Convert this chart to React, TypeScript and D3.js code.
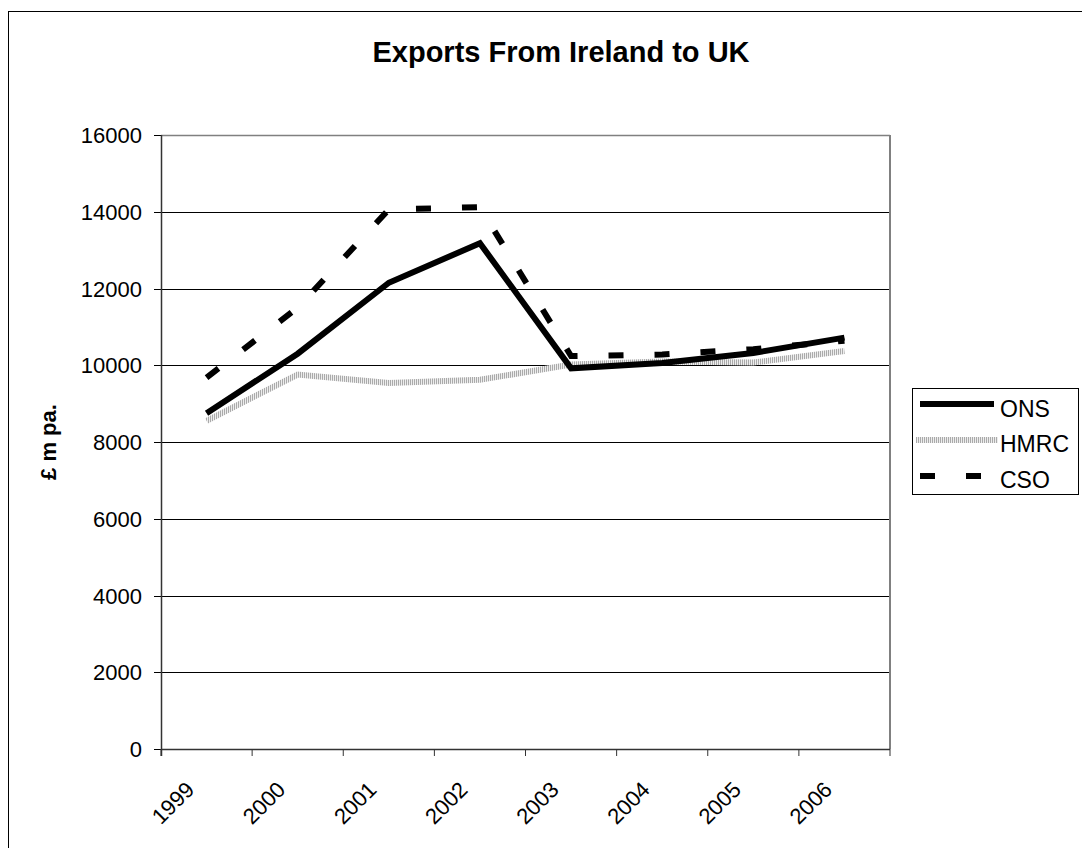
import React from "react";
import * as d3 from "d3";

const years = ["1999", "2000", "2001", "2002", "2003", "2004", "2005", "2006"];
const onsValues = [8750, 10300, 12150, 13180, 9920, 10060, 10320, 10720];
const hmrcValues = [8550, 9760, 9540, 9620, 10020, 10100, 10070, 10370];
const csoValues = [9680, 11500, 14060, 14120, 10240, 10280, 10420, 10640];
const yTicks = [0, 2000, 4000, 6000, 8000, 10000, 12000, 14000, 16000];
const seriesNames = ["ONS", "HMRC", "CSO"];

const FONT = "'Liberation Sans', Arial, sans-serif";

export default function App() {
  const W = 1082, H = 848;
  const left = 161, right = 890, top = 135, bottom = 749;
  const x = d3.scaleBand<string>().domain(years).range([left, right]);
  const y = d3.scaleLinear().domain([0, 16000]).range([bottom, top]);
  const cx = (yr: string) => (x(yr) as number) + x.bandwidth() / 2;
  const line = d3
    .line<number>()
    .x((_, i) => cx(years[i]))
    .y((v) => y(v));

  const legendX = 912, legendY = 388;
  const legendRows = [404, 440, 476];
  const legendBase = [417, 452, 488];

  return (
    <svg width={W} height={H} style={{ position: "absolute", left: 0, top: 0 }}>
      <defs>
        <pattern id="hatch" width="2" height="2" patternUnits="userSpaceOnUse">
          <rect width="2" height="2" fill="#ededed" />
          <rect width="1" height="2" fill="#aaaaaa" />
        </pattern>
      </defs>
      <rect x={0} y={0} width={W} height={H} fill="#fff" />
      <rect x={8.5} y={11.5} width={1090} height={850} fill="none" stroke="#000" strokeWidth={1} />
      <text x={561} y={62} textAnchor="middle" fontFamily={FONT} fontWeight="bold" fontSize={29}>
        Exports From Ireland to UK
      </text>
      {/* gridlines */}
      {yTicks.map((t) => (
        <g key={t}>
          {t > 0 && t < 16000 && (
            <line x1={left} x2={right} y1={Math.round(y(t)) + 0.5} y2={Math.round(y(t)) + 0.5} stroke="#000" strokeWidth={1} />
          )}
          <line x1={left - 7} x2={left} y1={Math.round(y(t)) + 0.5} y2={Math.round(y(t)) + 0.5} stroke="#000" />
          <text x={142} y={y(t) + 8} textAnchor="end" fontFamily={FONT} fontSize={22}>
            {t}
          </text>
        </g>
      ))}
      {/* plot border */}
      <line x1={left} x2={right} y1={top + 0.5} y2={top + 0.5} stroke="#808080" strokeWidth={1.5} />
      <line x1={right} x2={right} y1={top} y2={bottom} stroke="#808080" strokeWidth={2} />
      <line x1={left + 0.5} x2={left + 0.5} y1={top} y2={bottom + 7} stroke="#333" strokeWidth={1.5} />
      <line x1={left} x2={right} y1={bottom + 0.5} y2={bottom + 0.5} stroke="#333" strokeWidth={1.5} />
      {years.concat(["end"]).map((yr, i) => {
        const xx = left + i * x.step();
        return <line key={yr} x1={xx} x2={xx} y1={bottom} y2={bottom + 7} stroke="#333" strokeWidth={1} />;
      })}
      {years.map((yr) => (
        <text
          key={yr}
          transform={`translate(${cx(yr) - 11},${bottom + 42}) rotate(-45)`}
          textAnchor="end"
          fontFamily={FONT}
          fontSize={22}
        >
          {yr}
        </text>
      ))}
      <text
        transform={`translate(56,442) rotate(-90)`}
        textAnchor="middle"
        fontFamily={FONT}
        fontWeight="bold"
        fontSize={22}
      >
        £ m pa.
      </text>
      {/* series */}
      <path d={line(hmrcValues) as string} fill="none" stroke="url(#hatch)" strokeWidth={6} strokeLinejoin="miter" />
      <path d={line(onsValues) as string} fill="none" stroke="#000" strokeWidth={6} strokeLinejoin="miter" />
      <path d={line(csoValues) as string} fill="none" stroke="#000" strokeWidth={6} strokeDasharray="15 31" />
      {/* legend */}
      <rect x={legendX + 0.5} y={legendY + 0.5} width={166} height={106} fill="#fff" stroke="#000" />
      {seriesNames.map((n, i) => (
        <g key={n}>
          {i === 0 && <line x1={920} x2={994} y1={legendRows[i]} y2={legendRows[i]} stroke="#000" strokeWidth={6} />}
          {i === 1 && <line x1={916} x2={998} y1={legendRows[i]} y2={legendRows[i]} stroke="url(#hatch)" strokeWidth={6} />}
          {i === 2 && <line x1={920} x2={994} y1={legendRows[i]} y2={legendRows[i]} stroke="#000" strokeWidth={6} strokeDasharray="15 31" />}
          <text x={1000} y={legendBase[i]} fontFamily={FONT} fontSize={23}>
            {n}
          </text>
        </g>
      ))}
    </svg>
  );
}
